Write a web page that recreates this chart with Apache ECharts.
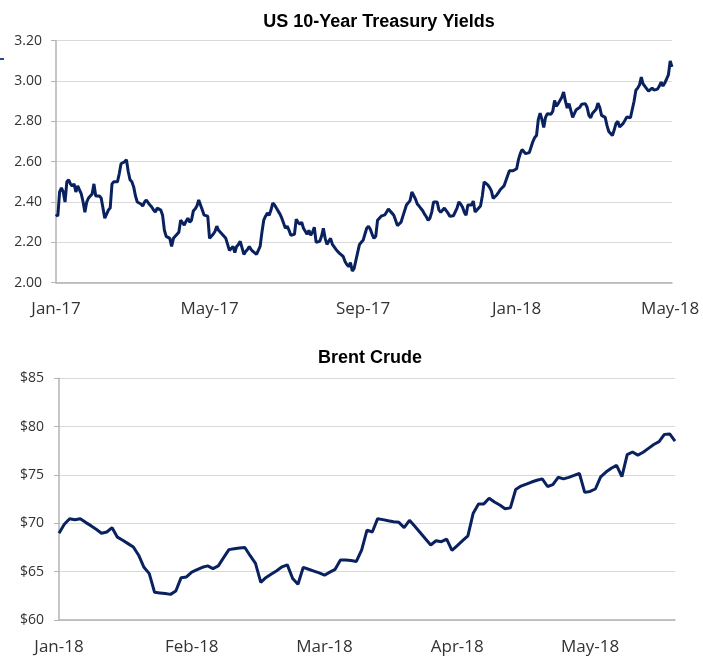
<!DOCTYPE html>
<html>
<head>
<meta charset="utf-8">
<script src="https://cdn.jsdelivr.net/npm/echarts@6/dist/echarts.min.js"></script>
<style>
  html, body { margin: 0; padding: 0; background: #fff; }
  #chart { width: 703px; height: 656px; }
</style>
</head>
<body>
<div id="chart"></div>
<script>
// ---- Data ----
const yieldTitle = 'US 10-Year Treasury Yields';
const brentTitle = 'Brent Crude';

// tick labels shown every 85 trading days (top) and every 25 (bottom)
const yieldTickLabels = ['Jan-17', 'May-17', 'Sep-17', 'Jan-18', 'May-18'];
const yieldTickEvery = 85;
const brentTickLabels = ['Jan-18', 'Feb-18', 'Mar-18', 'Apr-18', 'May-18'];
const brentTickEvery = 25;

const yieldTicks = [2.0, 2.2, 2.4, 2.6, 2.8, 3.0, 3.2];
const brentTicks = [60, 65, 70, 75, 80, 85];

// US 10-year yields, daily (%)
const yields = [
  2.34, 2.33, 2.45, 2.47, 2.45, 2.40, 2.50, 2.51, 2.49, 2.48,
  2.49, 2.45, 2.48, 2.48, 2.44, 2.40, 2.35, 2.40, 2.42, 2.43,
  2.44, 2.49, 2.43, 2.43, 2.43, 2.42, 2.37, 2.32, 2.34, 2.36,
  2.37, 2.49, 2.50, 2.50, 2.50, 2.54, 2.59, 2.59, 2.60, 2.61,
  2.55, 2.51, 2.50, 2.475, 2.43, 2.40, 2.395, 2.39, 2.38, 2.40,
  2.41, 2.415, 2.385, 2.375, 2.36, 2.35, 2.37, 2.365, 2.36, 2.335,
  2.26, 2.23, 2.23, 2.22, 2.18, 2.22, 2.225, 2.24, 2.25, 2.31,
  2.31, 2.285, 2.305, 2.32, 2.30, 2.31, 2.355, 2.365, 2.38, 2.41,
  2.405, 2.36, 2.335, 2.335, 2.33, 2.22, 2.23, 2.24, 2.254, 2.28,
  2.26, 2.25, 2.245, 2.23, 2.22, 2.19, 2.16, 2.165, 2.18, 2.15,
  2.18, 2.19, 2.205, 2.21, 2.14, 2.155, 2.165, 2.18, 2.165, 2.155,
  2.15, 2.14, 2.135, 2.18, 2.25, 2.31, 2.33, 2.345, 2.335, 2.36,
  2.395, 2.385, 2.37, 2.355, 2.34, 2.32, 2.325, 2.27, 2.28, 2.26,
  2.235, 2.23, 2.24, 2.315, 2.30, 2.29, 2.30, 2.27, 2.255, 2.24,
  2.26, 2.235, 2.25, 2.275, 2.20, 2.195, 2.205, 2.23, 2.27, 2.22,
  2.19, 2.185, 2.22, 2.19, 2.19, 2.165, 2.155, 2.145, 2.14, 2.13,
  2.105, 2.09, 2.08, 2.10, 2.058, 2.07, 2.11, 2.15, 2.19, 2.20,
  2.21, 2.24, 2.27, 2.28, 2.265, 2.24, 2.22, 2.23, 2.31, 2.32,
  2.33, 2.333, 2.336, 2.34, 2.365, 2.357, 2.345, 2.335, 2.31, 2.283,
  2.29, 2.30, 2.329, 2.33, 2.385, 2.385, 2.407, 2.45, 2.445, 2.415,
  2.39, 2.38, 2.372, 2.357, 2.34, 2.327, 2.31, 2.32, 2.35, 2.40,
  2.405, 2.40, 2.36, 2.349, 2.35, 2.37, 2.37, 2.345, 2.33, 2.329,
  2.332, 2.33, 2.37, 2.40, 2.39, 2.375, 2.35, 2.335, 2.385, 2.382,
  2.385, 2.405, 2.35, 2.345, 2.37, 2.38, 2.43, 2.50, 2.495, 2.485,
  2.473, 2.455, 2.418, 2.42, 2.435, 2.448, 2.462, 2.47, 2.48, 2.48,
  2.53, 2.555, 2.552, 2.555, 2.547, 2.565, 2.61, 2.64, 2.66, 2.655,
  2.64, 2.635, 2.645, 2.673, 2.70, 2.72, 2.73, 2.81, 2.84, 2.81,
  2.77, 2.82, 2.838, 2.84, 2.835, 2.85, 2.904, 2.875, 2.888, 2.88,
  2.92, 2.945, 2.90, 2.866, 2.888, 2.89, 2.82, 2.84, 2.858, 2.85,
  2.87, 2.885, 2.89, 2.888, 2.87, 2.83, 2.818, 2.84, 2.841, 2.86,
  2.89, 2.87, 2.83, 2.832, 2.82, 2.78, 2.75, 2.74, 2.73, 2.757,
  2.79, 2.80, 2.772, 2.78, 2.79, 2.795, 2.822, 2.82, 2.818, 2.812,
  2.90, 2.954, 2.965, 2.98, 3.02, 2.985, 2.974, 2.967, 2.95, 2.955,
  2.965, 2.955, 2.95, 2.96, 2.975, 2.995, 2.975, 2.99, 2.995, 3.03,
  3.10, 3.07
];

// Brent crude, daily ($/bbl)
const brent = [
  68.98, 69.9, 70.47, 70.36, 70.47, 70.1, 69.76, 69.39, 68.98, 69.1,
  69.55, 68.57, 68.25, 67.9, 67.55, 66.7, 65.45, 64.8, 62.86, 62.8,
  62.73, 62.65, 63.0, 64.38, 64.45, 64.95, 65.2, 65.45, 65.6, 65.32,
  65.6, 66.45, 67.28, 67.37, 67.45, 67.5, 66.65, 65.85, 63.9, 64.4,
  64.75, 65.1, 65.5, 65.7, 64.3, 63.7, 65.45, 65.25, 65.06, 64.87,
  64.63, 64.95, 65.24, 66.2, 66.2, 66.15, 66.06, 67.25, 69.3, 69.1,
  70.48, 70.38, 70.27, 70.17, 70.1, 69.56, 70.31, 69.7, 69.05, 68.4,
  67.76, 68.2, 68.1, 68.37, 67.2, 67.7, 68.2, 68.7, 71.05, 72.01,
  72.01, 72.59, 72.2, 71.9, 71.5, 71.6, 73.5, 73.85, 74.05, 74.27,
  74.45, 74.6, 73.81, 74.0, 74.76, 74.6, 74.75, 74.95, 75.15, 73.2,
  73.3, 73.55, 74.8, 75.3, 75.7, 76.0, 74.83, 77.1, 77.38, 77.05,
  77.35, 77.75, 78.15, 78.45, 79.2, 79.25, 78.5
];

// ---- Chart ----
const LINE = '#0a2160';
const LABEL = '#333333';
const AXIS_FONT = '"Open Sans", "Noto Sans", sans-serif';
const TITLE_FONT = '"Liberation Sans", Arial, sans-serif';

function cats(arr) { return arr.map((_, i) => i); }

function xAxisFor(gridIndex, data, labels, every, margin) {
  return {
    type: 'category', gridIndex, data: cats(data), boundaryGap: false,
    axisLine: { lineStyle: { color: '#b3b3b3', width: 1.5 } },
    axisTick: { show: false },
    axisLabel: {
      interval: 0, margin, color: LABEL, fontFamily: AXIS_FONT, fontSize: 17,
      formatter: (v, i) => (i % every === 0 && labels[i / every]) ? labels[i / every] : ''
    },
    splitLine: { show: false }
  };
}

function yAxisFor(gridIndex, ticks, fmt, margin) {
  return {
    type: 'value', gridIndex,
    min: ticks[0], max: ticks[ticks.length - 1],
    interval: ticks[1] - ticks[0],
    axisLine: { show: true, lineStyle: { color: '#b3b3b3', width: 1.5 } },
    axisTick: { show: true, length: 5, lineStyle: { color: '#b3b3b3' } },
    axisLabel: { margin, color: LABEL, fontFamily: AXIS_FONT, fontSize: 14, formatter: fmt },
    splitLine: { lineStyle: { color: '#d9d9d9', width: 1.2 } }
  };
}

const chart = echarts.init(document.getElementById('chart'), null, { renderer: 'canvas' });
chart.setOption({
  animation: false,
  backgroundColor: '#ffffff',
  title: [
    { text: yieldTitle, left: 374, top: 8, textAlign: 'center',
      textStyle: { fontFamily: TITLE_FONT, fontWeight: 'bold', fontSize: 18, color: '#000' } },
    { text: brentTitle, left: 365, top: 344, textAlign: 'center',
      textStyle: { fontFamily: TITLE_FONT, fontWeight: 'bold', fontSize: 18, color: '#000' } }
  ],
  grid: [
    { left: 56, right: 31, top: 40.7, height: 242, containLabel: false },
    { left: 59, right: 28, top: 378.3, height: 241.7, containLabel: false }
  ],
  xAxis: [
    xAxisFor(0, yields, yieldTickLabels, yieldTickEvery, 18),
    xAxisFor(1, brent, brentTickLabels, brentTickEvery, 19)
  ],
  yAxis: [
    yAxisFor(0, yieldTicks, v => v.toFixed(2), 14),
    yAxisFor(1, brentTicks, v => '$' + v, 15)
  ],
  series: [
    { type: 'line', xAxisIndex: 0, yAxisIndex: 0, data: yields, showSymbol: false,
      lineStyle: { color: LINE, width: 3 }, z: 3 },
    { type: 'line', xAxisIndex: 1, yAxisIndex: 1, data: brent, showSymbol: false,
      lineStyle: { color: LINE, width: 3 }, z: 3 }
  ],
  graphic: [
    { type: 'line', shape: { x1: 0, y1: 59, x2: 4, y2: 59 },
      style: { stroke: '#1f4e8c', lineWidth: 2 } }
  ]
});
</script>
</body>
</html>
